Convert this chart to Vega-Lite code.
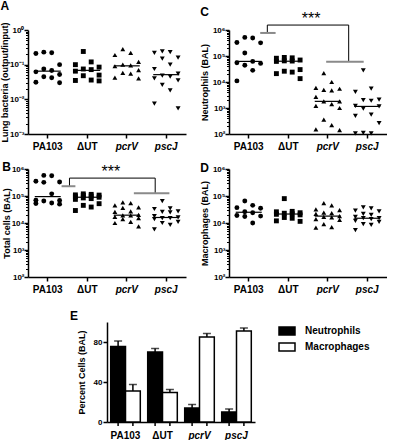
{
"$schema": "https://vega.github.io/schema/vega-lite/v6.json",
"background": "white",
"padding": {"left": 0, "top": 0, "right": 0, "bottom": 0},
"config": {
 "font": "Liberation Sans",
 "view": {"stroke": null},
 "axis": {"domainColor": "black", "tickColor": "black", "labelColor": "black", "titleColor": "black", "grid": false, "labelFont": "Liberation Sans", "titleFont": "Liberation Sans", "labelFontWeight": "bold", "titleFontWeight": "bold", "domainWidth": 1.5, "tickWidth": 1.5, "labelOverlap": false},
 "title": {"font": "Liberation Sans", "fontWeight": "bold", "fontSize": 12, "anchor": "start", "frame": "bounds", "color": "black"}
},
"datasets": {
 "pts": [
  {"p":"A","s":"PA103","v":0.23},{"p":"A","s":"PA103","v":0.22},{"p":"A","s":"PA103","v":0.21},{"p":"A","s":"PA103","v":0.10},{"p":"A","s":"PA103","v":0.075},{"p":"A","s":"PA103","v":0.068},{"p":"A","s":"PA103","v":0.062},{"p":"A","s":"PA103","v":0.052},{"p":"A","s":"PA103","v":0.045},{"p":"A","s":"PA103","v":0.042},{"p":"A","s":"PA103","v":0.031},{"p":"A","s":"PA103","v":0.030},
  {"p":"A","s":"ΔUT","v":0.24},{"p":"A","s":"ΔUT","v":0.12},{"p":"A","s":"ΔUT","v":0.10},{"p":"A","s":"ΔUT","v":0.085},{"p":"A","s":"ΔUT","v":0.075},{"p":"A","s":"ΔUT","v":0.072},{"p":"A","s":"ΔUT","v":0.065},{"p":"A","s":"ΔUT","v":0.05},{"p":"A","s":"ΔUT","v":0.048},{"p":"A","s":"ΔUT","v":0.036},{"p":"A","s":"ΔUT","v":0.035},{"p":"A","s":"ΔUT","v":0.034},
  {"p":"A","s":"pcrV","v":0.28},{"p":"A","s":"pcrV","v":0.22},{"p":"A","s":"pcrV","v":0.19},{"p":"A","s":"pcrV","v":0.12},{"p":"A","s":"pcrV","v":0.10},{"p":"A","s":"pcrV","v":0.095},{"p":"A","s":"pcrV","v":0.09},{"p":"A","s":"pcrV","v":0.07},{"p":"A","s":"pcrV","v":0.058},{"p":"A","s":"pcrV","v":0.055},{"p":"A","s":"pcrV","v":0.042},{"p":"A","s":"pcrV","v":0.04},
  {"p":"A","s":"pscJ","v":0.24},{"p":"A","s":"pscJ","v":0.23},{"p":"A","s":"pscJ","v":0.22},{"p":"A","s":"pscJ","v":0.16},{"p":"A","s":"pscJ","v":0.15},{"p":"A","s":"pscJ","v":0.10},{"p":"A","s":"pscJ","v":0.075},{"p":"A","s":"pscJ","v":0.055},{"p":"A","s":"pscJ","v":0.048},{"p":"A","s":"pscJ","v":0.045},{"p":"A","s":"pscJ","v":0.04},{"p":"A","s":"pscJ","v":0.035},{"p":"A","s":"pscJ","v":0.026},{"p":"A","s":"pscJ","v":0.018},{"p":"A","s":"pscJ","v":0.0075},{"p":"A","s":"pscJ","v":0.0055},
  {"p":"B","s":"PA103","v":580000},{"p":"B","s":"PA103","v":560000},{"p":"B","s":"PA103","v":350000},{"p":"B","s":"PA103","v":330000},{"p":"B","s":"PA103","v":320000},{"p":"B","s":"PA103","v":120000},{"p":"B","s":"PA103","v":70000},{"p":"B","s":"PA103","v":68000},{"p":"B","s":"PA103","v":65000},{"p":"B","s":"PA103","v":55000},{"p":"B","s":"PA103","v":53000},{"p":"B","s":"PA103","v":50000},
  {"p":"B","s":"ΔUT","v":120000},{"p":"B","s":"ΔUT","v":115000},{"p":"B","s":"ΔUT","v":110000},{"p":"B","s":"ΔUT","v":108000},{"p":"B","s":"ΔUT","v":105000},{"p":"B","s":"ΔUT","v":100000},{"p":"B","s":"ΔUT","v":95000},{"p":"B","s":"ΔUT","v":90000},{"p":"B","s":"ΔUT","v":85000},{"p":"B","s":"ΔUT","v":80000},{"p":"B","s":"ΔUT","v":75000},{"p":"B","s":"ΔUT","v":52000},{"p":"B","s":"ΔUT","v":45000},{"p":"B","s":"ΔUT","v":39000},{"p":"B","s":"ΔUT","v":29000},
  {"p":"B","s":"pcrV","v":58000},{"p":"B","s":"pcrV","v":55000},{"p":"B","s":"pcrV","v":45000},{"p":"B","s":"pcrV","v":38000},{"p":"B","s":"pcrV","v":36000},{"p":"B","s":"pcrV","v":27000},{"p":"B","s":"pcrV","v":26000},{"p":"B","s":"pcrV","v":20000},{"p":"B","s":"pcrV","v":19000},{"p":"B","s":"pcrV","v":19000},{"p":"B","s":"pcrV","v":17000},{"p":"B","s":"pcrV","v":15000},{"p":"B","s":"pcrV","v":14000},{"p":"B","s":"pcrV","v":11000},{"p":"B","s":"pcrV","v":10000},{"p":"B","s":"pcrV","v":7500},
  {"p":"B","s":"pscJ","v":65000},{"p":"B","s":"pscJ","v":35000},{"p":"B","s":"pscJ","v":33000},{"p":"B","s":"pscJ","v":27000},{"p":"B","s":"pscJ","v":26000},{"p":"B","s":"pscJ","v":25000},{"p":"B","s":"pscJ","v":18000},{"p":"B","s":"pscJ","v":16000},{"p":"B","s":"pscJ","v":15000},{"p":"B","s":"pscJ","v":15000},{"p":"B","s":"pscJ","v":14000},{"p":"B","s":"pscJ","v":11000},{"p":"B","s":"pscJ","v":10000},{"p":"B","s":"pscJ","v":8500},{"p":"B","s":"pscJ","v":5800},
  {"p":"C","s":"PA103","v":520000},{"p":"C","s":"PA103","v":490000},{"p":"C","s":"PA103","v":330000},{"p":"C","s":"PA103","v":320000},{"p":"C","s":"PA103","v":130000},{"p":"C","s":"PA103","v":62000},{"p":"C","s":"PA103","v":55000},{"p":"C","s":"PA103","v":52000},{"p":"C","s":"PA103","v":44000},{"p":"C","s":"PA103","v":28000},{"p":"C","s":"PA103","v":11000},
  {"p":"C","s":"ΔUT","v":88000},{"p":"C","s":"ΔUT","v":85000},{"p":"C","s":"ΔUT","v":82000},{"p":"C","s":"ΔUT","v":70000},{"p":"C","s":"ΔUT","v":65000},{"p":"C","s":"ΔUT","v":64000},{"p":"C","s":"ΔUT","v":62000},{"p":"C","s":"ΔUT","v":30000},{"p":"C","s":"ΔUT","v":26000},{"p":"C","s":"ΔUT","v":24000},{"p":"C","s":"ΔUT","v":21000},{"p":"C","s":"ΔUT","v":13500},
  {"p":"C","s":"pcrV","v":22000},{"p":"C","s":"pcrV","v":10000},{"p":"C","s":"pcrV","v":6000},{"p":"C","s":"pcrV","v":5500},{"p":"C","s":"pcrV","v":5000},{"p":"C","s":"pcrV","v":4800},{"p":"C","s":"pcrV","v":2700},{"p":"C","s":"pcrV","v":1800},{"p":"C","s":"pcrV","v":1800},{"p":"C","s":"pcrV","v":1400},{"p":"C","s":"pcrV","v":1200},{"p":"C","s":"pcrV","v":1000},{"p":"C","s":"pcrV","v":360},{"p":"C","s":"pcrV","v":220},{"p":"C","s":"pcrV","v":150},{"p":"C","s":"pcrV","v":140},
  {"p":"C","s":"pscJ","v":28000},{"p":"C","s":"pscJ","v":5600},{"p":"C","s":"pscJ","v":4200},{"p":"C","s":"pscJ","v":2100},{"p":"C","s":"pscJ","v":2000},{"p":"C","s":"pscJ","v":1900},{"p":"C","s":"pscJ","v":1200},{"p":"C","s":"pscJ","v":1150},{"p":"C","s":"pscJ","v":950},{"p":"C","s":"pscJ","v":560},{"p":"C","s":"pscJ","v":500},{"p":"C","s":"pscJ","v":260},{"p":"C","s":"pscJ","v":110},{"p":"C","s":"pscJ","v":105},{"p":"C","s":"pscJ","v":105},
  {"p":"D","s":"PA103","v":65000},{"p":"D","s":"PA103","v":45000},{"p":"D","s":"PA103","v":37000},{"p":"D","s":"PA103","v":35000},{"p":"D","s":"PA103","v":26000},{"p":"D","s":"PA103","v":24000},{"p":"D","s":"PA103","v":19000},{"p":"D","s":"PA103","v":18000},{"p":"D","s":"PA103","v":17500},{"p":"D","s":"PA103","v":10000},
  {"p":"D","s":"ΔUT","v":80000},{"p":"D","s":"ΔUT","v":27000},{"p":"D","s":"ΔUT","v":26000},{"p":"D","s":"ΔUT","v":24000},{"p":"D","s":"ΔUT","v":23000},{"p":"D","s":"ΔUT","v":22000},{"p":"D","s":"ΔUT","v":21000},{"p":"D","s":"ΔUT","v":20000},{"p":"D","s":"ΔUT","v":16000},{"p":"D","s":"ΔUT","v":15000},{"p":"D","s":"ΔUT","v":12000},{"p":"D","s":"ΔUT","v":11500},
  {"p":"D","s":"pcrV","v":55000},{"p":"D","s":"pcrV","v":45000},{"p":"D","s":"pcrV","v":32000},{"p":"D","s":"pcrV","v":30000},{"p":"D","s":"pcrV","v":24000},{"p":"D","s":"pcrV","v":23000},{"p":"D","s":"pcrV","v":22000},{"p":"D","s":"pcrV","v":18000},{"p":"D","s":"pcrV","v":17000},{"p":"D","s":"pcrV","v":16000},{"p":"D","s":"pcrV","v":14000},{"p":"D","s":"pcrV","v":13000},{"p":"D","s":"pcrV","v":9000},{"p":"D","s":"pcrV","v":7000},{"p":"D","s":"pcrV","v":6800},
  {"p":"D","s":"pscJ","v":38000},{"p":"D","s":"pscJ","v":35000},{"p":"D","s":"pscJ","v":29000},{"p":"D","s":"pscJ","v":27000},{"p":"D","s":"pscJ","v":22000},{"p":"D","s":"pscJ","v":20000},{"p":"D","s":"pscJ","v":17000},{"p":"D","s":"pscJ","v":15000},{"p":"D","s":"pscJ","v":15000},{"p":"D","s":"pscJ","v":14000},{"p":"D","s":"pscJ","v":12000},{"p":"D","s":"pscJ","v":11000},{"p":"D","s":"pscJ","v":9000},{"p":"D","s":"pscJ","v":8500},{"p":"D","s":"pscJ","v":5500}
 ],
 "brk": [
  {"p":"B","part":"line","x1":1.05,"x2":3.22,"y1":460000,"y2":460000},
  {"p":"B","part":"line","x1":1.05,"x2":1.05,"y1":460000,"y2":230000},
  {"p":"B","part":"line","x1":3.22,"x2":3.22,"y1":460000,"y2":126000},
  {"p":"B","part":"base","x1":0.85,"x2":1.2,"y1":230000,"y2":230000},
  {"p":"B","part":"base","x1":2.68,"x2":3.58,"y1":126000,"y2":126000},
  {"p":"B","part":"stars","x1":2.1,"x2":2.1,"y1":460000,"y2":460000,"t":"***"},
  {"p":"C","part":"line","x1":0.97,"x2":3.03,"y1":1550000,"y2":1550000},
  {"p":"C","part":"line","x1":0.97,"x2":0.97,"y1":1550000,"y2":770000},
  {"p":"C","part":"line","x1":3.03,"x2":3.03,"y1":1550000,"y2":60000},
  {"p":"C","part":"base","x1":0.79,"x2":1.18,"y1":770000,"y2":770000},
  {"p":"C","part":"base","x1":2.46,"x2":3.41,"y1":60000,"y2":60000},
  {"p":"C","part":"stars","x1":2.08,"x2":2.08,"y1":1550000,"y2":1550000,"t":"***"}
 ],
 "pct": [
  {"s":"PA103","c":"Neutrophils","m":75.5,"hi":81},{"s":"PA103","c":"Macrophages","m":31,"hi":37.5},
  {"s":"ΔUT","c":"Neutrophils","m":70,"hi":73.5},{"s":"ΔUT","c":"Macrophages","m":29.5,"hi":32.5},
  {"s":"pcrV","c":"Neutrophils","m":14,"hi":17.5},{"s":"pcrV","c":"Macrophages","m":85,"hi":88.5},
  {"s":"pscJ","c":"Neutrophils","m":10,"hi":13},{"s":"pscJ","c":"Macrophages","m":91,"hi":94}
 ]
},
"spacing": 16,
"resolve": {"scale": {"fill": "independent", "xOffset": "independent"}, "legend": {"fill": "independent"}},
"vconcat": [
 {"spacing": 10,
  "resolve": {"scale": {"xOffset": "independent"}},
  "vconcat": [
 {"hconcat": [
  {"width": 158, "height": 104,
   "title": {"text": "A", "offset": 9},
   "layer": [
    {"data": {"name": "pts"},
     "transform": [{"filter": "datum.p == 'A'"}, {"window": [{"op": "row_number", "as": "k"}], "groupby": ["s"], "sort": [{"field": "v", "order": "descending"}]}, {"calculate": "datum.k % 4", "as": "slot"}],
     "mark": {"type": "point", "filled": true, "opacity": 1, "color": "black", "size": 24},
     "encoding": {
      "x": {"field": "s", "type": "nominal", "title": null, "scale": {"domain": ["PA103","ΔUT","pcrV","pscJ"], "paddingInner": 0, "paddingOuter": 0}, "axis": {"labelAngle": 0, "labelFontSize": 10, "tickSize": 4, "labelPadding": 3, "labelFontStyle": {"expr": "datum.value == 'pcrV' || datum.value == 'pscJ' ? 'italic' : 'normal'"}}},
      "xOffset": {"field": "slot", "type": "nominal", "scale": {"domain": [3,1,2,0], "paddingInner": 0, "paddingOuter": 1.5}},
      "y": {"field": "v", "type": "quantitative", "title": "Lung bacteria (output/input)", "scale": {"type": "log", "domain": [0.001, 1], "nice": false}, "axis": {"values": [0.001,0.002,0.003,0.004,0.005,0.006,0.007,0.008,0.009,0.01,0.02,0.03,0.04,0.05,0.06,0.07,0.08,0.09,0.1,0.2,0.3,0.4,0.5,0.6,0.7,0.8,0.9,1], "labelExpr": "abs(log(datum.value)/LN10 - round(log(datum.value)/LN10)) > 0.01 ? '' : datum.value >= 0.5 ? '10⁰' : datum.value >= 0.05 ? '10⁻¹' : datum.value >= 0.005 ? '10⁻²' : '10⁻³'", "tickSize": {"condition": {"test": "abs(log(datum.value)/LN10 - round(log(datum.value)/LN10)) > 0.01", "value": 2.5}, "value": 4}, "tickWidth": {"condition": {"test": "abs(log(datum.value)/LN10 - round(log(datum.value)/LN10)) > 0.01", "value": 1}, "value": 1.5}, "labelFontSize": 8, "titleFontSize": 9, "labelPadding": 0, "titlePadding": 0}},
      "shape": {"field": "s", "type": "nominal", "scale": {"domain": ["PA103","ΔUT","pcrV","pscJ"], "range": ["circle","square","triangle-up","triangle-down"]}, "legend": null}
     }},
    {"data": {"name": "pts"},
     "transform": [{"filter": "datum.p == 'A'"}],
     "mark": {"type": "tick", "color": "black", "thickness": 1.2, "size": 26},
     "encoding": {
      "x": {"field": "s", "type": "nominal", "title": null},
      "y": {"aggregate": "median", "field": "v", "type": "quantitative", "title": "Lung bacteria (output/input)"}
     }}
   ]
  },
  {"width": 158, "height": 104,
   "title": {"text": "C", "offset": -8},
   "layer": [
    {"layer": [
     {"data": {"name": "pts"},
      "transform": [{"filter": "datum.p == 'C'"}, {"window": [{"op": "row_number", "as": "k"}], "groupby": ["s"], "sort": [{"field": "v", "order": "descending"}]}, {"calculate": "datum.k % 4", "as": "slot"}],
      "mark": {"type": "point", "filled": true, "opacity": 1, "color": "black", "size": 24},
      "encoding": {
       "x": {"field": "s", "type": "nominal", "title": null, "scale": {"domain": ["PA103","ΔUT","pcrV","pscJ"], "paddingInner": 0, "paddingOuter": 0}, "axis": {"labelAngle": 0, "labelFontSize": 10, "tickSize": 4, "labelPadding": 3, "labelFontStyle": {"expr": "datum.value == 'pcrV' || datum.value == 'pscJ' ? 'italic' : 'normal'"}}},
       "xOffset": {"field": "slot", "type": "nominal", "scale": {"domain": [3,1,2,0], "paddingInner": 0, "paddingOuter": 1.5}},
       "y": {"field": "v", "type": "quantitative", "title": "Neutrophils (BAL)", "scale": {"type": "log", "domain": [100, 1000000], "nice": false}, "axis": {"values": [100,200,300,400,500,600,700,800,900,1000,2000,3000,4000,5000,6000,7000,8000,9000,10000,20000,30000,40000,50000,60000,70000,80000,90000,100000,200000,300000,400000,500000,600000,700000,800000,900000,1000000], "labelExpr": "abs(log(datum.value)/LN10 - round(log(datum.value)/LN10)) > 0.01 ? '' : datum.value >= 5e5 ? '10⁶' : datum.value >= 5e4 ? '10⁵' : datum.value >= 5e3 ? '10⁴' : datum.value >= 500 ? '10³' : '10²'", "tickSize": {"condition": {"test": "abs(log(datum.value)/LN10 - round(log(datum.value)/LN10)) > 0.01", "value": 2.5}, "value": 4}, "tickWidth": {"condition": {"test": "abs(log(datum.value)/LN10 - round(log(datum.value)/LN10)) > 0.01", "value": 1}, "value": 1.5}, "labelFontSize": 8, "titleFontSize": 9, "labelPadding": 0, "titlePadding": 3}},
       "shape": {"field": "s", "type": "nominal", "scale": {"domain": ["PA103","ΔUT","pcrV","pscJ"], "range": ["circle","square","triangle-up","triangle-down"]}, "legend": null}
      }},
     {"data": {"name": "pts"},
      "transform": [{"filter": "datum.p == 'C'"}],
      "mark": {"type": "tick", "color": "black", "thickness": 1.2, "size": 26},
      "encoding": {
       "x": {"field": "s", "type": "nominal", "title": null},
       "y": {"aggregate": "median", "field": "v", "type": "quantitative", "title": "Neutrophils (BAL)"}
      }}
    ]},
    {"data": {"name": "brk"},
     "transform": [{"filter": "datum.p == 'C' && datum.part == 'line'"}],
     "mark": {"type": "rule", "color": "black", "strokeWidth": 1},
     "encoding": {
      "x": {"field": "x1", "type": "quantitative", "scale": {"domain": [0, 4], "nice": false, "zero": false}, "axis": null},
      "x2": {"field": "x2"},
      "y": {"field": "y1", "type": "quantitative", "scale": {"type": "log", "domain": [100, 1000000], "nice": false}, "axis": null},
      "y2": {"field": "y2"}
     }},
    {"data": {"name": "brk"},
     "transform": [{"filter": "datum.p == 'C' && datum.part == 'base'"}],
     "mark": {"type": "rule", "color": "#8a8a8a", "strokeWidth": 2},
     "encoding": {
      "x": {"field": "x1", "type": "quantitative", "scale": {"domain": [0, 4], "nice": false, "zero": false}, "axis": null},
      "x2": {"field": "x2"},
      "y": {"field": "y1", "type": "quantitative", "scale": {"type": "log", "domain": [100, 1000000], "nice": false}, "axis": null},
      "y2": {"field": "y2"}
     }},
    {"data": {"name": "brk"},
     "transform": [{"filter": "datum.p == 'C' && datum.part == 'stars'"}],
     "mark": {"type": "text", "color": "black", "fill": "black", "fontSize": 16, "baseline": "bottom", "dy": 2, "font": "Liberation Sans"},
     "encoding": {
      "x": {"field": "x1", "type": "quantitative", "scale": {"domain": [0, 4], "nice": false, "zero": false}, "axis": null},
      "y": {"field": "y1", "type": "quantitative", "scale": {"type": "log", "domain": [100, 1000000], "nice": false}, "axis": null},
      "text": {"field": "t"}
     }}
   ],
   "resolve": {"scale": {"x": "independent"}, "axis": {"x": "independent", "y": "independent"}}
  }
 ], "spacing": 14, "resolve": {"scale": {"xOffset": "independent"}}},
 {"hconcat": [
  {"width": 158, "height": 108,
   "title": {"text": "B", "offset": -10},
   "layer": [
    {"layer": [
     {"data": {"name": "pts"},
      "transform": [{"filter": "datum.p == 'B'"}, {"window": [{"op": "row_number", "as": "k"}], "groupby": ["s"], "sort": [{"field": "v", "order": "descending"}]}, {"calculate": "datum.k % 4", "as": "slot"}],
      "mark": {"type": "point", "filled": true, "opacity": 1, "color": "black", "size": 24},
      "encoding": {
       "x": {"field": "s", "type": "nominal", "title": null, "scale": {"domain": ["PA103","ΔUT","pcrV","pscJ"], "paddingInner": 0, "paddingOuter": 0}, "axis": {"labelAngle": 0, "labelFontSize": 10, "tickSize": 4, "labelPadding": 3, "labelFontStyle": {"expr": "datum.value == 'pcrV' || datum.value == 'pscJ' ? 'italic' : 'normal'"}}},
       "xOffset": {"field": "slot", "type": "nominal", "scale": {"domain": [3,1,2,0], "paddingInner": 0, "paddingOuter": 1.5}},
       "y": {"field": "v", "type": "quantitative", "title": "Total cells (BAL)", "scale": {"type": "log", "domain": [100, 1000000], "nice": false}, "axis": {"values": [100,200,300,400,500,600,700,800,900,1000,2000,3000,4000,5000,6000,7000,8000,9000,10000,20000,30000,40000,50000,60000,70000,80000,90000,100000,200000,300000,400000,500000,600000,700000,800000,900000,1000000], "labelExpr": "abs(log(datum.value)/LN10 - round(log(datum.value)/LN10)) > 0.01 ? '' : datum.value >= 5e5 ? '10⁶' : datum.value >= 5e4 ? '10⁵' : datum.value >= 5e3 ? '10⁴' : datum.value >= 500 ? '10³' : '10²'", "tickSize": {"condition": {"test": "abs(log(datum.value)/LN10 - round(log(datum.value)/LN10)) > 0.01", "value": 2.5}, "value": 4}, "tickWidth": {"condition": {"test": "abs(log(datum.value)/LN10 - round(log(datum.value)/LN10)) > 0.01", "value": 1}, "value": 1.5}, "labelFontSize": 8, "titleFontSize": 9, "labelPadding": 0, "titlePadding": 0}},
       "shape": {"field": "s", "type": "nominal", "scale": {"domain": ["PA103","ΔUT","pcrV","pscJ"], "range": ["circle","square","triangle-up","triangle-down"]}, "legend": null}
      }},
     {"data": {"name": "pts"},
      "transform": [{"filter": "datum.p == 'B'"}],
      "mark": {"type": "tick", "color": "black", "thickness": 1.2, "size": 26},
      "encoding": {
       "x": {"field": "s", "type": "nominal", "title": null},
       "y": {"aggregate": "median", "field": "v", "type": "quantitative", "title": "Total cells (BAL)"}
      }}
    ]},
    {"data": {"name": "brk"},
     "transform": [{"filter": "datum.p == 'B' && datum.part == 'line'"}],
     "mark": {"type": "rule", "color": "black", "strokeWidth": 1},
     "encoding": {
      "x": {"field": "x1", "type": "quantitative", "scale": {"domain": [0, 4], "nice": false, "zero": false}, "axis": null},
      "x2": {"field": "x2"},
      "y": {"field": "y1", "type": "quantitative", "scale": {"type": "log", "domain": [100, 1000000], "nice": false}, "axis": null},
      "y2": {"field": "y2"}
     }},
    {"data": {"name": "brk"},
     "transform": [{"filter": "datum.p == 'B' && datum.part == 'base'"}],
     "mark": {"type": "rule", "color": "#8a8a8a", "strokeWidth": 2},
     "encoding": {
      "x": {"field": "x1", "type": "quantitative", "scale": {"domain": [0, 4], "nice": false, "zero": false}, "axis": null},
      "x2": {"field": "x2"},
      "y": {"field": "y1", "type": "quantitative", "scale": {"type": "log", "domain": [100, 1000000], "nice": false}, "axis": null},
      "y2": {"field": "y2"}
     }},
    {"data": {"name": "brk"},
     "transform": [{"filter": "datum.p == 'B' && datum.part == 'stars'"}],
     "mark": {"type": "text", "color": "black", "fill": "black", "fontSize": 16, "baseline": "bottom", "dy": 2, "font": "Liberation Sans"},
     "encoding": {
      "x": {"field": "x1", "type": "quantitative", "scale": {"domain": [0, 4], "nice": false, "zero": false}, "axis": null},
      "y": {"field": "y1", "type": "quantitative", "scale": {"type": "log", "domain": [100, 1000000], "nice": false}, "axis": null},
      "text": {"field": "t"}
     }}
   ],
   "resolve": {"scale": {"x": "independent"}, "axis": {"x": "independent", "y": "independent"}}
  },
  {"width": 158, "height": 108,
   "title": {"text": "D", "offset": -10},
   "layer": [
    {"data": {"name": "pts"},
     "transform": [{"filter": "datum.p == 'D'"}, {"window": [{"op": "row_number", "as": "k"}], "groupby": ["s"], "sort": [{"field": "v", "order": "descending"}]}, {"calculate": "datum.k % 4", "as": "slot"}],
     "mark": {"type": "point", "filled": true, "opacity": 1, "color": "black", "size": 24},
     "encoding": {
      "x": {"field": "s", "type": "nominal", "title": null, "scale": {"domain": ["PA103","ΔUT","pcrV","pscJ"], "paddingInner": 0, "paddingOuter": 0}, "axis": {"labelAngle": 0, "labelFontSize": 10, "tickSize": 4, "labelPadding": 3, "labelFontStyle": {"expr": "datum.value == 'pcrV' || datum.value == 'pscJ' ? 'italic' : 'normal'"}}},
      "xOffset": {"field": "slot", "type": "nominal", "scale": {"domain": [3,1,2,0], "paddingInner": 0, "paddingOuter": 1.5}},
      "y": {"field": "v", "type": "quantitative", "title": "Macrophages (BAL)", "scale": {"type": "log", "domain": [100, 1000000], "nice": false}, "axis": {"values": [100,200,300,400,500,600,700,800,900,1000,2000,3000,4000,5000,6000,7000,8000,9000,10000,20000,30000,40000,50000,60000,70000,80000,90000,100000,200000,300000,400000,500000,600000,700000,800000,900000,1000000], "labelExpr": "abs(log(datum.value)/LN10 - round(log(datum.value)/LN10)) > 0.01 ? '' : datum.value >= 5e5 ? '10⁶' : datum.value >= 5e4 ? '10⁵' : datum.value >= 5e3 ? '10⁴' : datum.value >= 500 ? '10³' : '10²'", "tickSize": {"condition": {"test": "abs(log(datum.value)/LN10 - round(log(datum.value)/LN10)) > 0.01", "value": 2.5}, "value": 4}, "tickWidth": {"condition": {"test": "abs(log(datum.value)/LN10 - round(log(datum.value)/LN10)) > 0.01", "value": 1}, "value": 1.5}, "labelFontSize": 8, "titleFontSize": 9, "labelPadding": 0, "titlePadding": 3}},
      "shape": {"field": "s", "type": "nominal", "scale": {"domain": ["PA103","ΔUT","pcrV","pscJ"], "range": ["circle","square","triangle-up","triangle-down"]}, "legend": null}
     }},
    {"data": {"name": "pts"},
     "transform": [{"filter": "datum.p == 'D'"}],
     "mark": {"type": "tick", "color": "black", "thickness": 1.2, "size": 26},
     "encoding": {
      "x": {"field": "s", "type": "nominal", "title": null},
      "y": {"aggregate": "median", "field": "v", "type": "quantitative", "title": "Macrophages (BAL)"}
     }}
   ]
  }
 ], "spacing": 14, "resolve": {"scale": {"xOffset": "independent"}}}
  ]},
 {"hconcat": [
  {"width": 42, "height": 10, "data": {"values": [{}]}, "mark": {"type": "point", "opacity": 0}},
  {"width": 148, "height": 100,
   "title": {"text": "E", "offset": -1, "dx": -7},
   "data": {"name": "pct"},
   "layer": [
    {"mark": {"type": "bar", "stroke": "black", "strokeWidth": 1.5},
     "encoding": {
      "x": {"field": "s", "type": "nominal", "title": null, "scale": {"type": "band", "domain": ["PA103","ΔUT","pcrV","pscJ"], "paddingInner": 0.2, "paddingOuter": 0.1}, "axis": {"labelAngle": 0, "labelFontSize": 10, "ticks": false, "labelPadding": 8, "labelFontStyle": {"expr": "datum.value == 'pcrV' || datum.value == 'pscJ' ? 'italic' : 'normal'"}}},
      "xOffset": {"field": "c", "type": "nominal", "scale": {"type": "band", "domain": ["Neutrophils","Macrophages"], "paddingInner": 0, "paddingOuter": 0}},
      "y": {"field": "m", "type": "quantitative", "title": "Percent Cells (BAL)", "scale": {"domain": [0, 100], "nice": false}, "axis": {"values": [0,20,40,60,80,100], "labelFontSize": 8, "titleFontSize": 9, "tickSize": 4, "labelPadding": 1, "titlePadding": 7}},
      "fill": {"field": "c", "type": "nominal", "scale": {"domain": ["Neutrophils","Macrophages"], "range": ["black","white"]}, "legend": {"title": null, "orient": "right", "offset": 23, "symbolType": "M-1,-0.5H1V0.5H-1Z", "symbolSize": 256, "symbolStrokeColor": "black", "symbolStrokeWidth": 1.5, "labelFont": "Liberation Sans", "labelFontWeight": "bold", "labelFontSize": 10, "labelColor": "black", "labelOffset": 9, "rowPadding": -3}}
     }},
    {"mark": {"type": "rule", "color": "black", "strokeWidth": 1.5},
     "encoding": {
      "x": {"field": "s", "type": "nominal", "title": null, "scale": {"type": "band", "domain": ["PA103","ΔUT","pcrV","pscJ"], "paddingInner": 0.2, "paddingOuter": 0.1}},
      "xOffset": {"field": "c", "type": "nominal", "scale": {"type": "band", "domain": ["Neutrophils","Macrophages"], "paddingInner": 0, "paddingOuter": 0}},
      "y": {"field": "m", "type": "quantitative", "title": "Percent Cells (BAL)"},
      "y2": {"field": "hi"}
     }},
    {"mark": {"type": "tick", "color": "black", "thickness": 1.5, "size": 8},
     "encoding": {
      "x": {"field": "s", "type": "nominal", "title": null, "scale": {"type": "band", "domain": ["PA103","ΔUT","pcrV","pscJ"], "paddingInner": 0.2, "paddingOuter": 0.1}},
      "xOffset": {"field": "c", "type": "nominal", "scale": {"type": "band", "domain": ["Neutrophils","Macrophages"], "paddingInner": 0, "paddingOuter": 0}},
      "y": {"field": "hi", "type": "quantitative", "title": "Percent Cells (BAL)"}
     }},
    {"mark": {"type": "rule", "color": "black", "strokeWidth": 1.5},
     "encoding": {
      "x": {"field": "s", "type": "nominal", "title": null, "scale": {"type": "band", "domain": ["PA103","ΔUT","pcrV","pscJ"], "paddingInner": 0.2, "paddingOuter": 0.1}},
      "xOffset": {"field": "c", "type": "nominal", "scale": {"type": "band", "domain": ["Neutrophils","Macrophages"], "paddingInner": 0, "paddingOuter": 0}},
      "y": {"datum": 0, "type": "quantitative", "title": "Percent Cells (BAL)"},
      "y2": {"datum": -4}
     }}
   ]
  }
 ], "spacing": 0, "resolve": {"scale": {"fill": "independent", "xOffset": "independent"}, "legend": {"fill": "independent"}}}
]
}
